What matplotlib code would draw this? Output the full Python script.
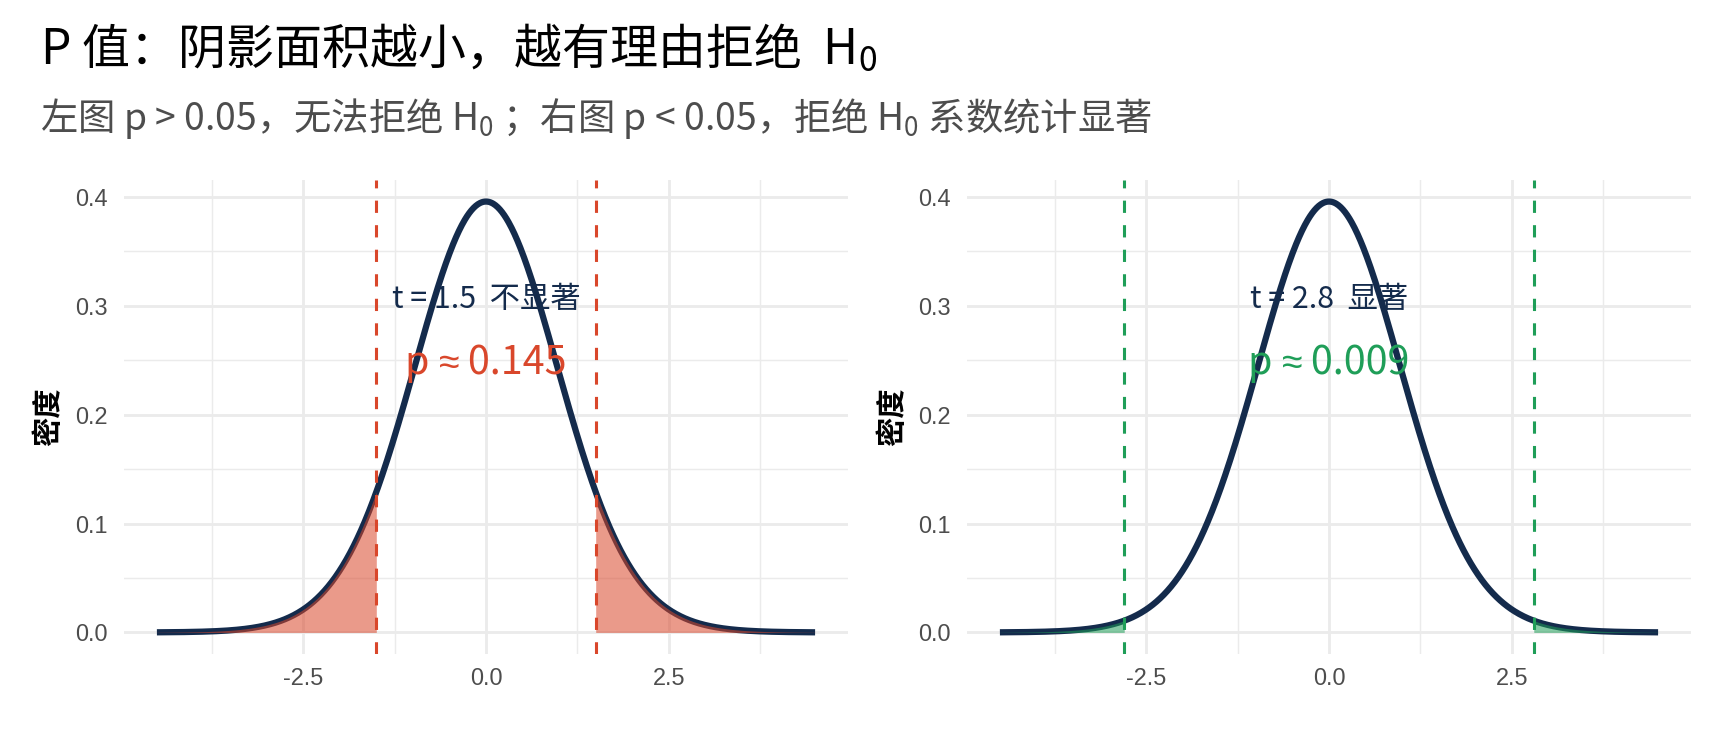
import math
import numpy as np
import matplotlib
matplotlib.use("Agg")
import matplotlib.pyplot as plt
from matplotlib.offsetbox import TextArea, HPacker, AnnotationBbox

plt.rcParams['font.family'] = ['Noto Sans CJK SC', 'DejaVu Sans']
plt.rcParams['mathtext.fontset'] = 'custom'
plt.rcParams['mathtext.rm'] = 'Noto Sans CJK SC'
plt.rcParams['mathtext.it'] = 'Noto Sans CJK SC'
plt.rcParams['axes.unicode_minus'] = False

# ---- data ----
df_t = 30                      # t distribution degrees of freedom
x_range = [-4.5, 4.5]
t_stats = [1.5, 2.8]
verdicts = ["不显著", "显著"]
p_values_txt = ["0.145", "0.009"]
accent_colors = ["#D9472B", "#1F9E58"]
x_tick_vals = [-2.5, 0.0, 2.5]
x_tick_labels = ["-2.5", "0.0", "2.5"]
x_minor_vals = [-3.75, -1.25, 1.25, 3.75]
y_tick_vals = [0.0, 0.1, 0.2, 0.3, 0.4]
y_tick_labels = ["0.0", "0.1", "0.2", "0.3", "0.4"]
y_minor_vals = [0.05, 0.15, 0.25, 0.35]
title = "P 值：阴影面积越小，越有理由拒绝  $\\mathrm{H}_0$"
subtitle = ("左图 p > 0.05，无法拒绝 $\\mathrm{H}_0$ ；右图 p < 0.05，"
            "拒绝 $\\mathrm{H}_0$ 系数统计显著")
y_label = "密度"

NAVY = "#142B4C"
GRID = "#EBEBEB"
TICK = "#4D4D4D"


def t_pdf(x, nu):
    c = math.gamma((nu + 1) / 2) / (math.sqrt(nu * math.pi) * math.gamma(nu / 2))
    return c * (1 + np.asarray(x) ** 2 / nu) ** (-(nu + 1) / 2)


W, H, DPI = 1728, 729, 192
fig = plt.figure(figsize=(W / DPI, H / DPI), dpi=DPI)
fig.patch.set_facecolor("white")

ax_lefts = [124, 967]
ax_w = 724
ax_top, ax_bot = 180, 654
ylab_x = [48, 892]

x = np.linspace(x_range[0], x_range[1], 901)
y = t_pdf(x, df_t)
ymax = float(y.max())
span_y = ymax - 0.0
ylim = (0 - 0.05 * span_y, ymax + 0.05 * span_y)
span_x = x_range[1] - x_range[0]
xlim = (x_range[0] - 0.05 * span_x, x_range[1] + 0.05 * span_x)

for i, (t, verdict, ptxt, col) in enumerate(zip(t_stats, verdicts, p_values_txt, accent_colors)):
    ax = fig.add_axes([ax_lefts[i] / W, (H - ax_bot) / H, ax_w / W, (ax_bot - ax_top) / H])
    ax.set_xlim(*xlim)
    ax.set_ylim(*ylim)
    for s in ax.spines.values():
        s.set_visible(False)
    ax.set_xticks(x_tick_vals)
    ax.set_xticklabels(x_tick_labels)
    ax.set_xticks(x_minor_vals, minor=True)
    ax.set_yticks(y_tick_vals)
    ax.set_yticklabels(y_tick_labels)
    ax.set_yticks(y_minor_vals, minor=True)
    ax.tick_params(which="both", length=0)
    ax.tick_params(axis="x", pad=5.0)
    ax.tick_params(axis="y", pad=6.0)
    for lab in ax.get_xticklabels() + ax.get_yticklabels():
        lab.set_fontfamily("Liberation Sans")
        lab.set_fontsize(8.8)
        lab.set_color(TICK)
    ax.grid(which="major", color=GRID, lw=1.07)
    ax.grid(which="minor", color=GRID, lw=0.55)
    ax.set_axisbelow(True)

    ax.plot(x, y, color=NAVY, lw=2.35, solid_capstyle="butt", zorder=3)

    xl = np.linspace(x_range[0], -t, 300)
    xr = np.linspace(t, x_range[1], 300)
    ax.fill_between(xl, 0, t_pdf(xl, df_t), color=col, alpha=0.55, lw=0, zorder=4)
    ax.fill_between(xr, 0, t_pdf(xr, df_t), color=col, alpha=0.55, lw=0, zorder=4)

    for v in (-t, t):
        ax.axvline(v, color=col, lw=1.15, ls=(0, (4, 4)), zorder=5)

    ax.text(0, 0.306, f"t = {t}  {verdict}", ha="center", va="center",
            fontsize=11.4, color=NAVY, zorder=6)

    p_main = dict(fontsize=14.8, color=col, family=["Noto Sans CJK SC"])
    p_sym = dict(fontsize=14.0, color=col, family=["Liberation Sans"])
    pack = HPacker(children=[TextArea("p ", textprops=p_main),
                             TextArea("≈", textprops=p_sym),
                             TextArea(" " + ptxt, textprops=p_main)],
                   pad=0, sep=0, align="baseline")
    ab = AnnotationBbox(pack, (0, 0.247), xycoords="data", frameon=False,
                        box_alignment=(0.5, 0.5), pad=0, zorder=6)
    ax.add_artist(ab)

    fig.text(ylab_x[i] / W, 1 - ((ax_top + ax_bot) / 2) / H, y_label, rotation=90,
             ha="center", va="center", fontsize=11, color="black", fontweight="bold")

fig.text(40 / W, 1 - 64 / H, title, ha="left", va="baseline", fontsize=18, color="black")
fig.text(40 / W, 1 - 130 / H, subtitle, ha="left", va="baseline", fontsize=14, color="#4D4D4D")

fig.savefig("out.png", dpi=DPI, facecolor="white")
